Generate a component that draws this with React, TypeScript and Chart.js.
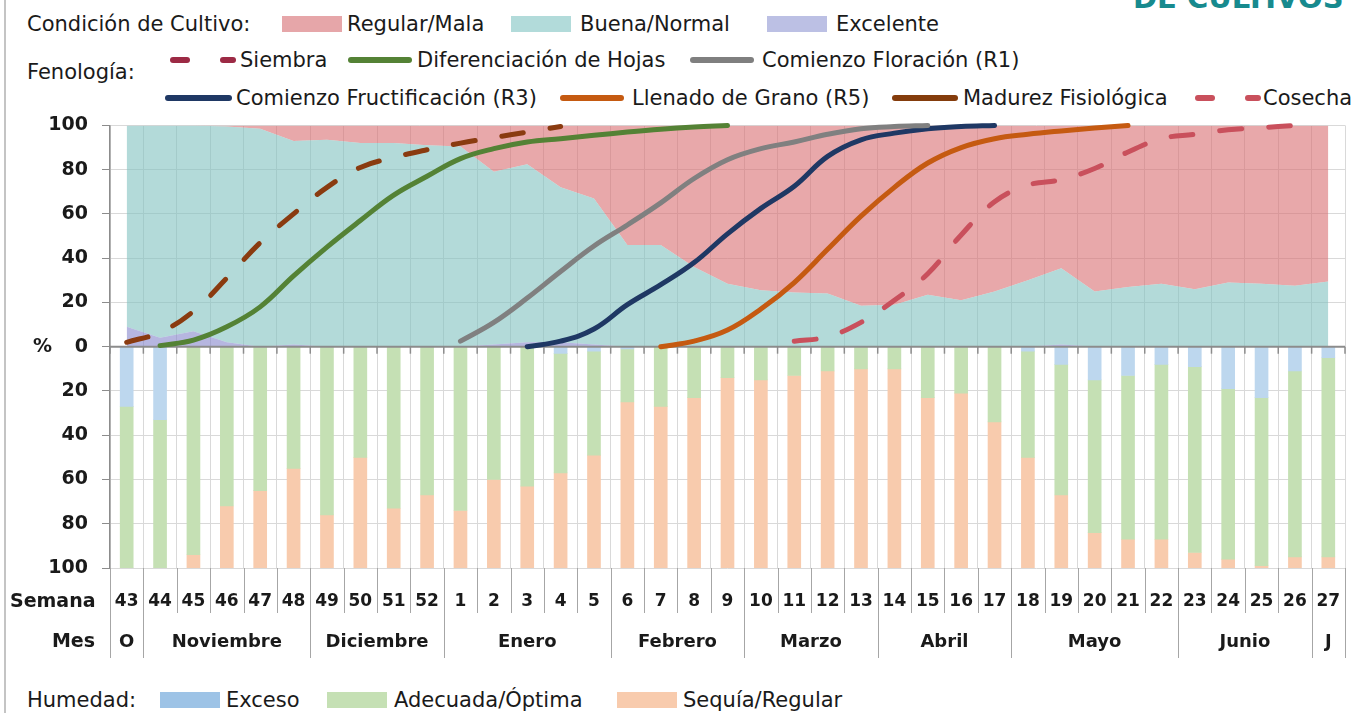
import React, { useEffect, useRef } from "react";
import { Chart, registerables } from "chart.js";

Chart.register(...registerables);

const FONT = "'DejaVu Sans', sans-serif";

// ---------- DATA ----------
const weeks = ["43","44","45","46","47","48","49","50","51","52","1","2","3","4","5","6","7","8","9","10","11","12","13","14","15","16","17","18","19","20","21","22","23","24","25","26","27"];
const monthLabels = ["O","Noviembre","Diciembre","Enero","Febrero","Marzo","Abril","Mayo","Junio","J"];
const monthWeekCounts = [1,5,4,5,4,4,4,5,4,1];

// Condición de cultivo (%)
const excelente = [9,4,7,2,0,1,0,0,0,0, 0,1,2,2,1,0,0,0,0,0, 0,0,0,0,0,0,0,0,1,0, 0,0,0,0,0,0,0];
const buenaNormal = [91,96,93,97.5,98.5,92,93.5,92,92,91, 90.5,78,80.5,70,66,46,46,36,28.5,25.5, 24.5,24,18.5,19,23.5,21,25,30,34.5,25, 27,28.5,26,29,28.5,27.5,29.5];
const regularMala = [0,0,0,0.5,1.5,7,6.5,8,8,9, 9.5,21,17.5,28,33,54,54,64,71.5,74.5, 75.5,76,81.5,81,76.5,79,75,70,64.5,75, 73,71.5,74,71,71.5,72.5,70.5];

// Humedad (%)
const exceso = [27,33,0,0,0,0,0,0,0,0, 0,0,0,3,2,1,0,0,0,0, 0,0,0,0,0,0,0,2,8,15, 13,8,9,19,23,11,5];
const adecuada = [73,67,94,72,65,55,76,50,73,67, 74,60,63,54,47,24,27,23,14,15, 13,11,10,10,23,21,34,48,59,69, 74,79,84,77,76,84,90];
const sequia = [0,0,6,28,35,45,24,50,27,33, 26,40,37,43,51,75,73,77,86,85, 87,89,90,90,77,79,66,50,33,16, 13,13,7,4,1,5,5];

// Fenología (% acumulado)
const siembra = [2,6.5,16,31,47,60,72,81,85.5,89, 92,94.5,97,99.5,null,null,null,null,null,null, null,null,null,null,null,null,null,null,null,null, null,null,null,null,null,null,null];
const difHojas = [null,0.5,3,9,18,32,45,57,68.5,77, 85,89.5,92.5,94,95.5,97,98.3,99.3,100,null, null,null,null,null,null,null,null,null,null,null, null,null,null,null,null,null,null];
const floracion = [null,null,null,null,null,null,null,null,null,null, 2.5,11,22,34,45.5,55,65,76,84.5,89.5, 92.5,96,98.5,99.5,100,null,null,null,null,null, null,null,null,null,null,null,null];
const fructificacion = [null,null,null,null,null,null,null,null,null,null, null,null,0,2.5,8,19,28,38,51,62.5, 72.5,86,93.5,96.5,98.5,99.5,100,null,null,null, null,null,null,null,null,null,null];
const llenado = [null,null,null,null,null,null,null,null,null,null, null,null,null,null,null,null,0,2.5,7.5,17, 29,44,59,72,83,90,94,96,97.5,98.8, 100,null,null,null,null,null,null];
const cosecha = [null,null,null,null,null,null,null,null,null,null, null,null,null,null,null,null,null,null,null,null, 2.5,4.5,11,21,33,50.5,65.5,73,75.5,80.5, 88,94,96,98,99,100,null];

// ---------- PLUGIN ----------
function boundaries(chart: any): number[] {
  const x = chart.scales.x;
  const step = x.getPixelForValue(1) - x.getPixelForValue(0);
  const out: number[] = [];
  for (let i = 0; i <= weeks.length; i++) out.push(x.getPixelForValue(0) - step / 2 + i * step);
  return out;
}

function drawZeroAxis(chart: any) {
  const { ctx, chartArea, scales } = chart;
  const y0 = scales.y.getPixelForValue(0);
  ctx.save();
  ctx.strokeStyle = "#8c8c8c";
  ctx.lineWidth = 2;
  ctx.beginPath();
  ctx.moveTo(chartArea.left, y0);
  ctx.lineTo(chartArea.right, y0);
  ctx.stroke();
  ctx.lineWidth = 1.5;
  for (const bx of boundaries(chart)) {
    ctx.beginPath();
    ctx.moveTo(bx, y0);
    ctx.lineTo(bx, y0 + 7);
    ctx.stroke();
  }
  ctx.restore();
}

const tablePlugin = {
  id: "weekTable",
  beforeDraw(chart: any) {
    chart.$axisDone = false;
  },
  beforeDatasetDraw(chart: any, args: any) {
    const ds: any = chart.data.datasets[args.index];
    if (ds.pheno && !chart.$axisDone) {
      chart.$axisDone = true;
      drawZeroAxis(chart);
    }
  },
  afterDraw(chart: any) {
    const { ctx, chartArea, scales } = chart;
    const x = scales.x;
    const y0 = scales.y.getPixelForValue(0);
    const bottom = chartArea.bottom;
    ctx.save();
    ctx.fillStyle = "#1a1a1a";
    ctx.textBaseline = "middle";
    ctx.font = `bold 19px ${FONT}`;
    ctx.textAlign = "left";
    ctx.fillText("%", 33, y0);

    const monthB = new Set<number>();
    let acc = 0;
    monthB.add(0);
    for (const n of monthWeekCounts) { acc += n; monthB.add(acc); }

    ctx.strokeStyle = "#a6a6a6";
    ctx.lineWidth = 1;
    boundaries(chart).forEach((bx, i) => {
      const px = Math.round(bx) + 0.5;
      ctx.beginPath();
      ctx.moveTo(px, bottom);
      ctx.lineTo(px, bottom + (monthB.has(i) ? 90 : 45));
      ctx.stroke();
    });

    ctx.textAlign = "center";
    ctx.font = `bold 17px ${FONT}`;
    weeks.forEach((w, i) => ctx.fillText(w, x.getPixelForValue(i), bottom + 34));

    ctx.font = `bold 18px ${FONT}`;
    acc = 0;
    monthLabels.forEach((m, k) => {
      const n = monthWeekCounts[k];
      const c = (x.getPixelForValue(acc) + x.getPixelForValue(acc + n - 1)) / 2;
      ctx.fillText(m, c, bottom + 74);
      acc += n;
    });

    ctx.font = `bold 19px ${FONT}`;
    ctx.textAlign = "left";
    ctx.fillText("Semana", 10, bottom + 34);
    ctx.textAlign = "right";
    ctx.fillText("Mes", 95, bottom + 74);
    ctx.restore();
  },
};

// ---------- LEGEND HELPERS ----------
const TXT = "#1a1a1a";
function Label({ x, cy, text, size = 21, color = TXT, bold = false }: any) {
  return (
    <span style={{ position: "absolute", left: x, top: cy - 13, lineHeight: "26px", fontSize: size, fontFamily: FONT, color, fontWeight: bold ? "bold" : "normal", whiteSpace: "nowrap" }}>{text}</span>
  );
}
function Swatch({ x, cy, w = 60, color }: any) {
  return <div style={{ position: "absolute", left: x, top: cy - 8, width: w, height: 16, background: color }} />;
}
function LineKey({ x, cy, w = 64, color, dashed = false }: any) {
  const base: any = { position: "absolute", top: cy - 3, height: 6, borderRadius: 3, background: color };
  if (dashed) {
    return (
      <>
        <div style={{ ...base, left: x, width: 20 }} />
        <div style={{ ...base, left: x + 50, width: 16 }} />
      </>
    );
  }
  return <div style={{ ...base, left: x, width: w }} />;
}

// ---------- APP ----------
export default function App() {
  const canvasRef = useRef<HTMLCanvasElement | null>(null);

  useEffect(() => {
    if (!canvasRef.current) return;
    const lineBase = (label: string, data: any[], color: string, dashed = false, stack = "") => ({
      type: "line" as const,
      label,
      data,
      pheno: true,
      stack,
      order: 0,
      borderColor: color,
      backgroundColor: color,
      borderWidth: 5,
      borderCapStyle: "round" as const,
      borderJoinStyle: "round" as const,
      borderDash: dashed ? [22, 27] : [],
      pointRadius: 0,
      fill: false,
      tension: 0.4,
      spanGaps: false,
      clip: false as any,
    });
    const area = (label: string, data: number[], color: string, fill: any) => ({
      type: "line" as const,
      label,
      data,
      stack: "cond",
      order: 2,
      borderColor: "rgba(0,0,0,0)",
      borderWidth: 0,
      backgroundColor: color,
      pointRadius: 0,
      tension: 0,
      fill,
    });
    const bar = (label: string, data: number[], color: string) => ({
      type: "bar" as const,
      label,
      data: data.map((v) => -v),
      stack: "hum",
      order: 1,
      backgroundColor: color,
      borderWidth: 0,
      barThickness: 13,
    });

    const chart = new Chart(canvasRef.current, {
      type: "bar",
      data: {
        labels: weeks,
        datasets: [
          area("Excelente", excelente, "rgba(133,133,203,0.6)", "origin"),
          area("Buena/Normal", buenaNormal, "rgba(128,193,191,0.6)", "-1"),
          area("Regular/Mala", regularMala, "rgba(217,110,113,0.6)", "-1"),
          bar("Exceso", exceso, "#BDD7EE"),
          bar("Adecuada/Óptima", adecuada, "#C5E0B4"),
          bar("Sequía/Regular", sequia, "#F8CBAD"),
          lineBase("Siembra", siembra, "#8A3B10", true, "p1"),
          lineBase("Diferenciación de Hojas", difHojas, "#548235", false, "p2"),
          lineBase("Comienzo Floración (R1)", floracion, "#808080", false, "p3"),
          lineBase("Comienzo Fructificación (R3)", fructificacion, "#1F3864", false, "p4"),
          lineBase("Llenado de Grano (R5)", llenado, "#C55A11", false, "p5"),
          lineBase("Cosecha", cosecha, "#C9505C", true, "p6"),
        ] as any,
      },
      options: {
        animation: false,
        responsive: false,
        maintainAspectRatio: false,
        layout: { padding: { top: 25, right: 9, left: 0, bottom: 0 } },
        plugins: { legend: { display: false }, tooltip: { enabled: false } },
        scales: {
          x: {
            type: "category",
            offset: true,
            grid: { offset: true, color: "#d9d9d9", lineWidth: 1, drawTicks: false },
            border: { display: false },
            ticks: { display: false },
            afterFit: (s: any) => { s.height = 100; },
          },
          y: {
            stacked: true,
            min: -100,
            max: 100,
            ticks: {
              stepSize: 20,
              padding: 14,
              color: "#1a1a1a",
              font: { family: FONT, weight: "bold", size: 19 },
              callback: (v: any) => String(Math.abs(Number(v))),
            },
            grid: {
              color: (c: any) => (c.tick && c.tick.value === 0 ? "rgba(0,0,0,0)" : "#d9d9d9"),
              tickColor: "#8c8c8c",
              tickLength: 8,
              lineWidth: 1,
            },
            border: { color: "#8c8c8c", width: 1.5 },
            afterFit: (s: any) => { s.width = 110; },
          },
        },
      } as any,
      plugins: [tablePlugin],
    });
    return () => chart.destroy();
  }, []);

  return (
    <div style={{ position: "absolute", left: 0, top: 0, width: 1354, height: 713, overflow: "hidden", background: "#fff" }}>
      <div style={{ position: "absolute", left: 4, top: 0, width: 2, height: 713, background: "#c4c4c4" }} />
      <span style={{ position: "absolute", left: 1133, top: -16, fontFamily: FONT, fontWeight: "bold", fontSize: 29, lineHeight: "29px", color: "#178A8E", whiteSpace: "nowrap" }}>DE CULTIVOS</span>

      <Label x={27} cy={24} text="Condición de Cultivo:" />
      <Swatch x={282} cy={24} color="#E6A6A9" />
      <Label x={347} cy={24} text="Regular/Mala" />
      <Swatch x={511} cy={24} color="#B2DBDA" />
      <Label x={580} cy={24} text="Buena/Normal" />
      <Swatch x={767} cy={24} color="#BCC0E4" />
      <Label x={836} cy={24} text="Excelente" />

      <Label x={27} cy={72} text="Fenología:" />
      <LineKey x={170} cy={60} color="#9C2A45" dashed />
      <Label x={240} cy={60} text="Siembra" />
      <LineKey x={348} cy={60} color="#548235" />
      <Label x={417} cy={60} text="Diferenciación de Hojas" />
      <LineKey x={690} cy={60} color="#7F7F7F" />
      <Label x={762} cy={60} text="Comienzo Floración (R1)" />

      <LineKey x={165} cy={98} w={67} color="#1F3864" />
      <Label x={236} cy={98} text="Comienzo Fructificación (R3)" />
      <LineKey x={560} cy={98} color="#C55A11" />
      <Label x={632} cy={98} text="Llenado de Grano (R5)" />
      <LineKey x={892} cy={98} w={66} color="#843C0C" />
      <Label x={963} cy={98} text="Madurez Fisiológica" />
      <LineKey x={1195} cy={98} color="#C9505C" dashed />
      <Label x={1263} cy={98} text="Cosecha" />

      <canvas ref={canvasRef} width={1354} height={568} style={{ position: "absolute", left: 0, top: 100, width: 1354, height: 568 }} />

      <Label x={27} cy={700} text="Humedad:" />
      <Swatch x={160} cy={700} color="#9DC3E6" />
      <Label x={226} cy={700} text="Exceso" />
      <Swatch x={327} cy={700} color="#C5E0B4" />
      <Label x={394} cy={700} text="Adecuada/Óptima" />
      <Swatch x={617} cy={700} color="#F8CBAD" />
      <Label x={683} cy={700} text="Sequía/Regular" />
    </div>
  );
}
